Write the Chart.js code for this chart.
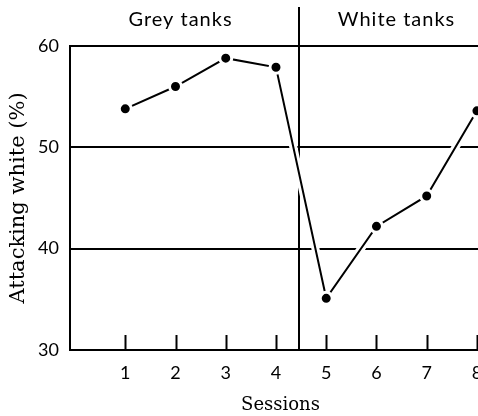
<!DOCTYPE html>
<html><head><meta charset="utf-8">
<script src="https://cdn.jsdelivr.net/npm/chart.js@4"></script>
<style>html,body{margin:0;padding:0;background:#fff;overflow:hidden;width:478px;height:416px}canvas{display:block}</style>
</head><body>
<canvas id="c" width="500" height="416" style="width:500px;height:416px"></canvas>
<script>
const sessions = [1, 2, 3, 4, 5, 6, 7, 8];
const attackingWhite = [53.8, 56.0, 58.8, 57.9, 35.1, 42.2, 45.2, 53.6];
const yTicks = [30, 40, 50, 60];
const xTickLabels = ['1', '2', '3', '4', '5', '6', '7', '8'];
const dividerSession = 4.45;
const phaseLabels = ['Grey tanks', 'White tanks'];
const phaseCenters = [2.1, 6.4];

const points = sessions.map((s, i) => ({x: s, y: attackingWhite[i]}));

const deco = {
  id: 'deco',
  beforeDatasetsDraw(chart) {
    const {ctx, chartArea} = chart;
    const x = chart.scales.x;
    ctx.save();
    ctx.strokeStyle = '#000';
    ctx.lineWidth = 2;
    sessions.forEach(s => {
      const px = Math.round(x.getPixelForValue(s)) + 0.5;
      ctx.beginPath();
      ctx.moveTo(px, chartArea.bottom);
      ctx.lineTo(px, chartArea.bottom - 15);
      ctx.stroke();
    });
    const dx = Math.round(x.getPixelForValue(dividerSession));
    ctx.beginPath();
    ctx.moveTo(dx, chartArea.top - 39);
    ctx.lineTo(dx, chartArea.bottom);
    ctx.stroke();
    // white halo along the data line (cuts the grid and divider where they cross)
    const els = chart.getDatasetMeta(0).data;
    ctx.strokeStyle = '#fff';
    ctx.lineWidth = 8;
    ctx.lineCap = 'butt';
    ctx.beginPath();
    els.forEach((el, i) => { if (i === 0) ctx.moveTo(el.x, el.y); else ctx.lineTo(el.x, el.y); });
    ctx.stroke();
    ctx.fillStyle = '#000';
    ctx.font = '20px Lato';
    ctx.textAlign = 'center';
    ctx.textBaseline = 'middle';
    try { ctx.letterSpacing = '1px'; } catch (e) {}
    phaseLabels.forEach((t, i) => ctx.fillText(t, x.getPixelForValue(phaseCenters[i]), 20));
    ctx.restore();
  }
};

new Chart(document.getElementById('c'), {
  type: 'line',
  data: {
    datasets: [
      {
        data: points,
        borderColor: '#000',
        borderWidth: 2,
        pointRadius: 6,
        pointBorderWidth: 3,
        pointBackgroundColor: '#000',
        pointBorderColor: '#fff',
        tension: 0
      }
    ]
  },
  options: {
    responsive: false,
    animation: false,
    devicePixelRatio: 1,
    layout: {padding: {top: 46, left: 0, right: 0, bottom: 0}},
    plugins: {legend: {display: false}, tooltip: {enabled: false}},
    scales: {
      x: {
        type: 'linear',
        min: -0.1,
        max: 8.28,
        afterBuildTicks: s => { s.ticks = sessions.map(v => ({value: v})); },
        afterFit: s => { s.height = 66; },
        ticks: {
          callback: (v) => xTickLabels[sessions.indexOf(v)] ?? '',
          color: '#000',
          font: {family: 'Lato', size: 18},
          padding: 12,
          maxRotation: 0,
          autoSkip: false
        },
        grid: {display: true, drawOnChartArea: false, drawTicks: false, color: 'rgba(0,0,0,0)'},
        border: {display: true, color: '#000', width: 2},
        title: {
          display: true,
          text: 'Sessions',
          color: '#000',
          font: {family: 'DejaVu Serif', size: 18},
          padding: {top: 0, bottom: 0}
        }
      },
      y: {
        min: 30,
        max: 60,
        afterBuildTicks: s => { s.ticks = yTicks.map(v => ({value: v})); },
        afterFit: s => { s.width = 70; },
        ticks: {
          color: '#000',
          font: {family: 'Lato', size: 18},
          padding: 11
        },
        grid: {color: '#000', lineWidth: 2, drawTicks: false},
        border: {display: true, color: '#000', width: 2},
        title: {
          display: true,
          text: 'Attacking white (%)',
          color: '#000',
          font: {family: 'DejaVu Serif', size: 21},
          padding: {top: 6, bottom: 0}
        }
      }
    }
  },
  plugins: [deco]
});
</script>
</body></html>
